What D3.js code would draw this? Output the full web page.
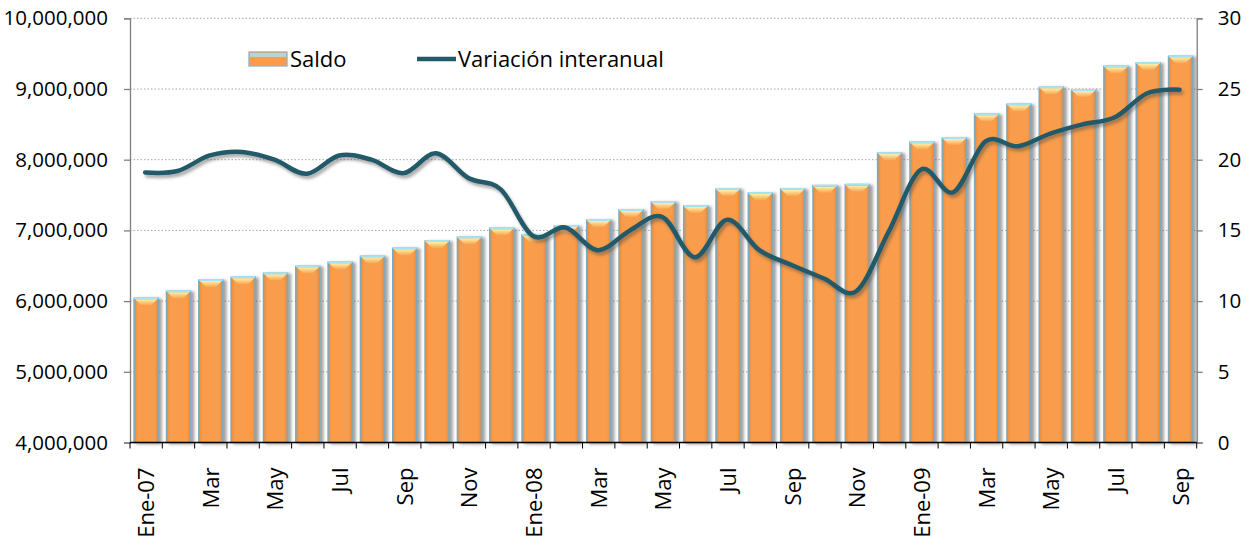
<!DOCTYPE html>
<html><head><meta charset="utf-8">
<script src="https://cdn.jsdelivr.net/npm/d3@7"></script>
<style>
html,body{margin:0;padding:0;background:#fff;}
svg{display:block;}
text{font-family:"Open Sans",sans-serif;fill:#000;}
</style></head>
<body><svg id="chart" width="1246" height="542"></svg>
<script>
const months = ["Ene-07","Feb","Mar","Abr","May","Jun","Jul","Ago","Sep","Oct","Nov","Dic",
"Ene-08","Feb","Mar","Abr","May","Jun","Jul","Ago","Sep","Oct","Nov","Dic",
"Ene-09","Feb","Mar","Abr","May","Jun","Jul","Ago","Sep"];
const saldo = [6040000,6139000,6298000,6337000,6393000,6492000,6549000,6634000,6747000,6850000,6902000,7030000,
6937000,7062000,7147000,7289000,7402000,7345000,7585000,7529000,7585000,7632000,7647000,8093000,
8246000,8307000,8642000,8783000,9024000,8986000,9321000,9368000,9462000];
const variacion = [19.1,19.2,20.3,20.55,20.0,19.0,20.3,20.0,19.05,20.45,18.7,17.9,
14.6,15.2,13.6,15.0,15.95,13.1,15.75,13.6,12.55,11.6,10.7,14.9,
19.3,17.7,21.3,20.95,21.85,22.5,23.0,24.7,24.95];
const leftTicks = [4000000,5000000,6000000,7000000,8000000,9000000,10000000];
const rightTicks = [0,5,10,15,20,25,30];
const labelIdx = [0,2,4,6,8,10,12,14,16,18,20,22,24,26,28,30,32];

const svg = d3.select("#chart");
const L = 130, R = 1196.7, T = 18.3, B = 442.5;
const ids = d3.range(months.length);
const x = d3.scaleBand().domain(ids).range([L, R]).paddingInner(0.26).paddingOuter(0.13);
const xb = d3.scaleBand().domain(ids).range([L, R]);
const yL = d3.scaleLinear().domain([4000000, 10000000]).range([B, T]);
const yR = d3.scaleLinear().domain([0, 30]).range([B, T]);

const defs = svg.append("defs");
const bg = defs.append("linearGradient").attr("id","barGrad").attr("x1","0").attr("x2","1").attr("y1","0").attr("y2","0");
bg.append("stop").attr("offset","0").attr("stop-color","#E98A3C");
bg.append("stop").attr("offset","0.15").attr("stop-color","#F99C4C");
bg.append("stop").attr("offset","0.85").attr("stop-color","#F99C4C");
bg.append("stop").attr("offset","1").attr("stop-color","#E98A3C");
const cg = defs.append("linearGradient").attr("id","capGrad").attr("x1","0").attr("x2","0").attr("y1","0").attr("y2","1");
cg.append("stop").attr("offset","0").attr("stop-color","#FFF0A8");
cg.append("stop").attr("offset","1").attr("stop-color","#F9A650");
const sg = defs.append("filter").attr("id","bshadow").attr("x","-20%").attr("y","-5%").attr("width","160%").attr("height","115%");
sg.append("feDropShadow").attr("dx",3).attr("dy",1).attr("stdDeviation",1.6).attr("flood-color","#555").attr("flood-opacity",0.55);
const lg = defs.append("filter").attr("id","lshadow").attr("x","-5%").attr("y","-20%").attr("width","110%").attr("height","140%");
lg.append("feDropShadow").attr("dx",2).attr("dy",3).attr("stdDeviation",1.8).attr("flood-color","#444").attr("flood-opacity",0.45);

// gridlines
svg.append("g").selectAll("line").data(leftTicks.slice(1)).join("line")
  .attr("x1", L).attr("x2", R).attr("y1", d => yL(d)).attr("y2", d => yL(d))
  .attr("stroke", "#A6A6A6").attr("stroke-width", 1).attr("stroke-dasharray", "1.5,2");

// bars
const bars = svg.append("g").selectAll("g").data(ids).join("g");
bars.append("rect")
  .attr("x", i => x(i)).attr("y", i => yL(saldo[i]))
  .attr("width", x.bandwidth()).attr("height", i => B - yL(saldo[i]))
  .attr("fill", "url(#barGrad)").attr("stroke", "#7FA9B8").attr("stroke-width", 1.6)
  .attr("filter", "url(#bshadow)");
bars.append("path")
  .attr("d", i => {
    const x0 = x(i)+1, x1 = x(i)+x.bandwidth()-1, y0 = yL(saldo[i])+1;
    return `M${x0},${y0}L${x1},${y0}L${x1-6},${y0+6}L${x0+6},${y0+6}Z`;
  })
  .attr("fill", "url(#capGrad)");
bars.append("line")
  .attr("x1", i => x(i)).attr("x2", i => x(i)+x.bandwidth())
  .attr("y1", i => yL(saldo[i])).attr("y2", i => yL(saldo[i]))
  .attr("stroke", "#A6E3F2").attr("stroke-width", 2);

// axes
const axL = svg.append("g").attr("transform", `translate(${L},0)`)
  .call(d3.axisLeft(yL).tickValues(leftTicks).tickSize(6).tickFormat(d3.format(",")));
axL.select(".domain").attr("stroke", "#7F7F7F").attr("stroke-width", 1.3);
axL.selectAll(".tick line").attr("stroke", "#7F7F7F").attr("stroke-width", 1.3);
axL.selectAll("text").attr("x", -22).attr("font-size", 20.5).attr("font-family", "Open Sans").attr("fill", "#000");

const axR = svg.append("g").attr("transform", `translate(${R},0)`)
  .call(d3.axisRight(yR).tickValues(rightTicks).tickSize(6));
axR.select(".domain").attr("stroke", "#7F7F7F").attr("stroke-width", 1.3);
axR.selectAll(".tick line").attr("stroke", "#7F7F7F").attr("stroke-width", 1.3);
axR.selectAll("text").attr("x", 21).attr("font-size", 20.5).attr("font-family", "Open Sans").attr("fill", "#000");

// bottom axis
const gB = svg.append("g");
gB.append("line").attr("x1", L).attr("x2", R).attr("y1", B).attr("y2", B).attr("stroke", "#000").attr("stroke-width", 1.3);
gB.selectAll(".tk").data(d3.range(months.length + 1)).join("line").attr("class","tk")
  .attr("x1", i => i < months.length ? xb(i) : R).attr("x2", i => i < months.length ? xb(i) : R)
  .attr("y1", B).attr("y2", B + 6).attr("stroke", "#000").attr("stroke-width", 1);
gB.selectAll("text").data(labelIdx).join("text")
  .attr("transform", i => `translate(${xb(i) + xb.bandwidth()/2 + 8},${B + 25}) rotate(-90)`)
  .attr("text-anchor", "end").attr("font-size", 22)
  .text(i => months[i]);

// line
const line = d3.line().x((d, i) => xb(i) + xb.bandwidth()/2 - 1).y(d => yR(d)).curve(d3.curveCardinal.tension(0));
svg.append("path").datum(variacion).attr("d", line)
  .attr("fill", "none").attr("stroke", "#215A69").attr("stroke-width", 4.5)
  .attr("stroke-linecap", "round").attr("filter", "url(#lshadow)");

// legend
const leg = svg.append("g");
leg.append("rect").attr("x", 249).attr("y", 52).attr("width", 38).attr("height", 14)
  .attr("fill", "#F99C4C").attr("stroke", "#8FB4C2").attr("stroke-width", 1.3);
leg.append("rect").attr("x", 250).attr("y", 53).attr("width", 36).attr("height", 4).attr("fill", "#A6E3F2").attr("opacity", 0.8);
leg.append("text").attr("x", 290).attr("y", 59).attr("dy", "0.35em").attr("font-size", 22).text("Saldo");
leg.append("line").attr("x1", 417).attr("x2", 456).attr("y1", 59).attr("y2", 59)
  .attr("stroke", "#215A69").attr("stroke-width", 4.5);
leg.append("text").attr("x", 458).attr("y", 59).attr("dy", "0.35em").attr("font-size", 22).text("Variación interanual");
</script></body></html>
